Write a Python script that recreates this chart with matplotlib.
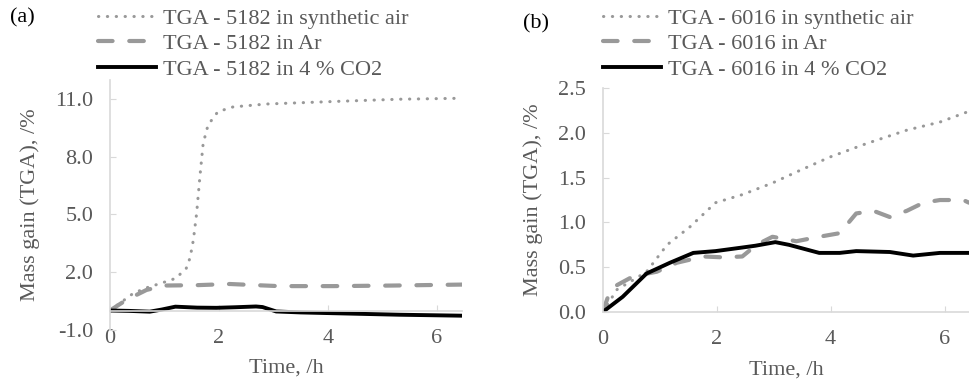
import matplotlib
matplotlib.use('Agg')
import matplotlib.pyplot as plt

plt.rcParams['font.family'] = 'Liberation Serif'

# Panel (a) - sample 5182
t_air_a = [0, 0.43, 0.69, 0.97, 1.21, 1.40, 1.47, 1.53, 1.59, 1.65, 1.71, 1.80, 1.98, 2.26, 2.87, 4.09, 5.31, 6.46]
m_air_a = [0, 0.9, 1.2, 1.45, 1.68, 2.2, 2.75, 3.67, 5.06, 6.97, 8.7, 9.66, 10.35, 10.6, 10.75, 10.88, 11.0, 11.05]
t_ar_a = [0, 0.3, 0.67, 1.0, 1.6, 2.2, 2.6, 3.1, 4.1, 5.2, 6.46]
m_ar_a = [0, 0.55, 1.07, 1.3, 1.32, 1.38, 1.33, 1.27, 1.27, 1.3, 1.35]
t_co2_a = [0, 0.35, 0.73, 0.95, 1.2, 1.6, 1.95, 2.3, 2.68, 2.8, 3.05, 3.5, 4.09, 4.7, 5.31, 6.46]
m_co2_a = [0, -0.02, -0.06, 0.05, 0.2, 0.15, 0.14, 0.17, 0.21, 0.18, -0.05, -0.1, -0.14, -0.18, -0.22, -0.27]

# Panel (b) - sample 6016
t_air_b = [0, 0.25, 0.54, 0.77, 1.13, 1.53, 1.98, 2.45, 2.98, 3.46, 3.99, 4.63, 5.34, 5.92, 6.43]
m_air_b = [0, 0.25, 0.36, 0.45, 0.75, 0.95, 1.22, 1.31, 1.44, 1.58, 1.73, 1.88, 2.03, 2.12, 2.24]
t_ar_b = [0, 0.12, 0.25, 0.54, 0.95, 1.3, 1.77, 2.12, 2.45, 2.7, 2.98, 3.4, 3.8, 4.16, 4.45, 4.75, 5.04, 5.34, 5.63, 5.92, 6.33, 6.43]
m_ar_b = [0, 0.22, 0.30, 0.40, 0.45, 0.55, 0.62, 0.61, 0.62, 0.75, 0.84, 0.79, 0.84, 0.88, 1.1, 1.13, 1.06, 1.13, 1.22, 1.25, 1.25, 1.22]
t_co2_b = [0, 0.35, 0.77, 1.18, 1.59, 1.98, 2.45, 2.68, 3.03, 3.27, 3.8, 4.16, 4.45, 5.04, 5.45, 5.92, 6.43]
m_co2_b = [0, 0.17, 0.43, 0.55, 0.66, 0.68, 0.72, 0.74, 0.78, 0.75, 0.66, 0.66, 0.68, 0.67, 0.63, 0.66, 0.66]

labels_a = ['TGA - 5182 in synthetic air', 'TGA - 5182 in Ar', 'TGA - 5182 in 4 % CO2']
labels_b = ['TGA - 6016 in synthetic air', 'TGA - 6016 in Ar', 'TGA - 6016 in 4 % CO2']

grey_txt = '#595959'
axis_col = '#d9d9d9'
line_grey = '#999999'

fig = plt.figure(figsize=(9.69, 3.81), dpi=100)
ax1 = fig.add_axes([0.1135, 0.1346, 0.3633, 0.6554])
ax2 = fig.add_axes([0.622, 0.181, 0.378, 0.588])


def draw(ax, t_air, m_air, t_ar, m_ar, t_co2, m_co2, labels):
    ax.plot(t_air, m_air, color=line_grey, lw=2.2, linestyle=(0, (0.1, 2.8)),
            dash_capstyle='round', label=labels[0])
    ax.plot(t_ar, m_ar, color=line_grey, lw=3.0, linestyle=(0, (3.5, 4.0)),
            dash_capstyle='round', label=labels[1])
    ax.plot(t_co2, m_co2, color='black', lw=2.8, label=labels[2])
    for s in ['top', 'right']:
        ax.spines[s].set_visible(False)
    for s in ['left', 'bottom']:
        ax.spines[s].set_color(axis_col)
        ax.spines[s].set_linewidth(1.2)
    ax.tick_params(direction='in', color=axis_col, length=4, labelsize=16,
                   labelcolor=grey_txt)
    ax.tick_params(axis='y', pad=12)
    ax.tick_params(axis='x', pad=13)
    ax.set_xlabel('Time, /h', fontsize=16, color=grey_txt, labelpad=8)
    ax.set_ylabel('Mass gain (TGA), /%', fontsize=16, color=grey_txt, labelpad=11)
    ax.set_xticks([0, 2, 4, 6])


draw(ax1, t_air_a, m_air_a, t_ar_a, m_ar_a, t_co2_a, m_co2_a, labels_a)
ax1.set_xlim(0, 6.46)
ax1.set_ylim(-1, 12)
ax1.set_yticks([-1, 2, 5, 8, 11])
ax1.set_yticklabels(['%.1f' % v for v in [-1, 2, 5, 8, 11]])
ax1.spines['bottom'].set_position(('data', 0))

draw(ax2, t_air_b, m_air_b, t_ar_b, m_ar_b, t_co2_b, m_co2_b, labels_b)
ax2.set_xlim(0, 6.43)
ax2.set_ylim(0, 2.5)
ax2.set_yticks([0, 0.5, 1.0, 1.5, 2.0, 2.5])
ax2.set_yticklabels(['%.1f' % v for v in [0, 0.5, 1.0, 1.5, 2.0, 2.5]])

for ax, x0 in [(ax1, 96 / 969), (ax2, 601 / 969)]:
    leg = ax.legend(loc='upper left', bbox_to_anchor=(x0, 1 - 6 / 381), bbox_transform=fig.transFigure,
                    frameon=False, fontsize=16, handlelength=2.6, handletextpad=0.3,
                    labelspacing=0.22, borderaxespad=0, borderpad=0.1)
    for txt in leg.get_texts():
        txt.set_color(grey_txt)

fig.text(10 / 969, 1 - 18 / 381, '(a)', fontsize=16, va='center', ha='left')
fig.text(523 / 969, 1 - 24 / 381, '(b)', fontsize=16, va='center', ha='left')

fig.savefig('out.png', dpi=100)
